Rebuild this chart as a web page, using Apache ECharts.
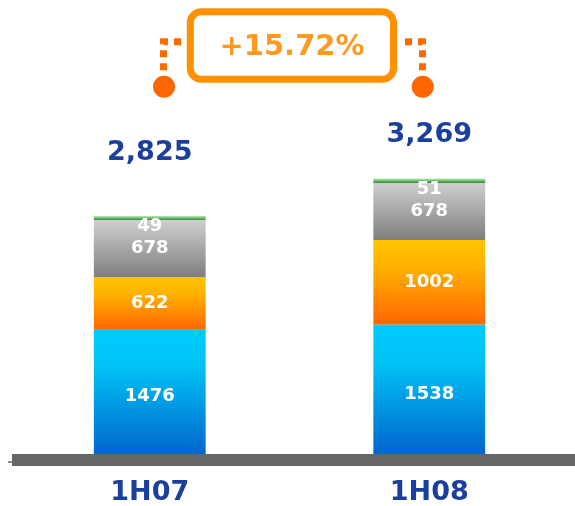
<!DOCTYPE html>
<html>
<head>
<meta charset="utf-8">
<script src="https://cdn.jsdelivr.net/npm/echarts@6/dist/echarts.min.js"></script>
<style>
html,body{margin:0;padding:0;background:#fff;}
#c{width:575px;height:506px;}
</style>
</head>
<body>
<div id="c"></div>
<script>
// ---- data ----
const categories = ['1H07', '1H08'];
const blueValues = [1476, 1538];
const orangeValues = [622, 1002];
const grayValues = [678, 678];
const greenValues = [49, 51];
const totals = [2825, 3269];

const growth = '+' + ((totals[1] / totals[0] - 1) * 100).toFixed(2) + '%';

const FONT = 'DejaVu Sans';
const BLUE_TXT = '#1B3F9C';

function grad(stops) {
  return {
    type: 'linear', x: 0, y: 0, x2: 0, y2: 1,
    colorStops: stops.map(s => ({ offset: s[0], color: s[1] }))
  };
}

const insideLabel = {
  show: true,
  position: 'inside',
  color: '#fff',
  fontFamily: FONT,
  fontWeight: 'bold',
  fontSize: 18
};

const chart = echarts.init(document.getElementById('c'), null, { renderer: 'canvas' });

const totalDistances = [50, 30];

chart.setOption({
  animation: false,
  grid: [
    { left: 10, right: 6, top: 117, bottom: 51 },
    { left: 12, right: 0, top: 117, bottom: 46 }
  ],
  xAxis: [
    {
      type: 'category', data: categories, gridIndex: 0,
      axisLine: { show: false }, axisTick: { show: false },
      axisLabel: {
        color: BLUE_TXT, fontFamily: FONT, fontWeight: 'bold',
        fontSize: 27, margin: 25
      }
    },
    {
      type: 'category', data: categories, gridIndex: 1,
      axisLine: { show: true, lineStyle: { color: '#666666', width: 12, cap: 'butt' } },
      axisTick: { show: false }, axisLabel: { show: false }
    }
  ],
  yAxis: [
    { type: 'value', min: 0, max: 4000, gridIndex: 0, show: false },
    { type: 'value', min: 0, max: 4000, gridIndex: 1, show: false }
  ],
  series: [
    {
      type: 'bar', stack: 'a', barWidth: '40%', data: blueValues,
      itemStyle: { color: grad([[0, '#00CCFF'], [0.3, '#00C2F6'], [1, '#0066CC']]) },
      label: Object.assign({}, insideLabel, { offset: [0, 5] })
    },
    {
      type: 'bar', stack: 'a', barWidth: '40%', data: orangeValues,
      itemStyle: { color: grad([[0, '#FFC400'], [0.3, '#FFB400'], [1, '#FF6600']]) },
      label: insideLabel
    },
    {
      type: 'bar', stack: 'a', barWidth: '40%', data: grayValues,
      itemStyle: { color: grad([[0, '#CFCFCF'], [1, '#7E7E7E']]) },
      label: insideLabel
    },
    {
      type: 'bar', stack: 'a', barWidth: '40%', data: greenValues,
      itemStyle: { color: grad([[0, '#B5ECB5'], [1, '#2E8B2E']]) },
      label: Object.assign({}, insideLabel, { position: 'bottom', distance: -3 })
    },
    {
      type: 'bar', barWidth: '40%', barGap: '-100%', silent: true,
      data: totals.map((v, i) => ({ value: v, label: { distance: totalDistances[i] } })),
      itemStyle: { color: 'rgba(0,0,0,0)' },
      label: {
        show: true, position: 'top', color: BLUE_TXT, fontFamily: FONT,
        fontWeight: 'bold', fontSize: 27,
        formatter: p => p.value.toLocaleString('en-US')
      },
      z: 5
    }
  ],
  graphic: [
    {
      type: 'rect',
      shape: { x: 190.3, y: 11.8, width: 203.2, height: 67.4, r: 11 },
      style: { fill: '#fff', stroke: '#FF9000', lineWidth: 7 }
    },
    {
      type: 'text', x: 292, y: 47,
      style: {
        text: growth, fill: '#FF9A1F', font: 'bold 29px "DejaVu Sans"',
        align: 'center', verticalAlign: 'middle'
      }
    },
    {
      type: 'polyline',
      shape: { points: [[181, 41.7], [163.5, 41.7], [163.5, 72]] },
      style: { stroke: '#FF6A00', lineWidth: 7, lineDash: [7, 6], fill: null }
    },
    {
      type: 'polyline',
      shape: { points: [[405, 41.7], [422.5, 41.7], [422.5, 72]] },
      style: { stroke: '#FF6A00', lineWidth: 7, lineDash: [7, 6], fill: null }
    },
    { type: 'circle', shape: { cx: 164, cy: 86.7, r: 11 }, style: { fill: '#FF6600' } },
    { type: 'circle', shape: { cx: 422.7, cy: 86.7, r: 11 }, style: { fill: '#FF6600' } },
    {
      type: 'line', shape: { x1: 8, y1: 462, x2: 12, y2: 462 },
      style: { stroke: '#666666', lineWidth: 1.5 }
    }
  ]
});
</script>
</body>
</html>
